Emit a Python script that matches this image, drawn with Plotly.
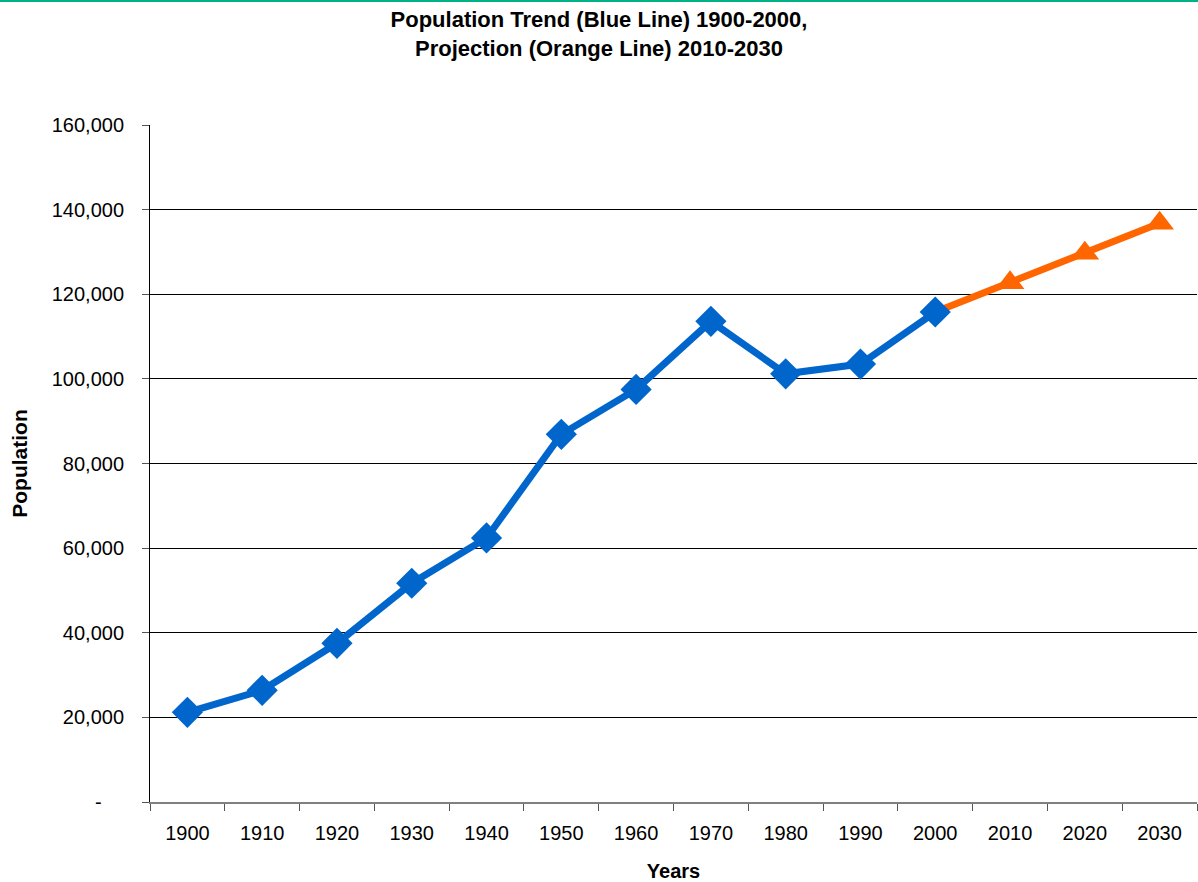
import plotly.graph_objects as go

years = ["1900", "1910", "1920", "1930", "1940", "1950", "1960", "1970",
         "1980", "1990", "2000", "2010", "2020", "2030"]
trend_years = years[:11]
trend_values = [21200, 26400, 37500, 51700, 62400, 86900, 97500, 113600,
                101200, 103500, 115800]
proj_years = years[10:]
proj_values = [115800, 122700, 129700, 136800]

y_ticks = [0, 20000, 40000, 60000, 80000, 100000, 120000, 140000, 160000]
y_tick_text = ["-" + "\u00a0" * 4, "20,000", "40,000", "60,000", "80,000",
               "100,000", "120,000", "140,000", "160,000"]

fig = go.Figure()
fig.add_trace(go.Scatter(
    x=proj_years, y=proj_values, mode="lines+markers",
    line=dict(color="#FF6600", width=7),
    marker=dict(symbol="triangle-up", size=[0, 25, 25, 25], color="#FF6600",
                opacity=1, line=dict(width=0, color="#FF6600")),
    showlegend=False, cliponaxis=False, hoverinfo="skip"))
fig.add_trace(go.Scatter(
    x=trend_years, y=trend_values, mode="lines+markers",
    line=dict(color="#0066CC", width=7),
    marker=dict(symbol="diamond", size=24, color="#0066CC",
                opacity=1, line=dict(width=0, color="#0066CC")),
    showlegend=False, cliponaxis=False, hoverinfo="skip"))

fig.update_layout(
    width=1198, height=882,
    margin=dict(l=150, r=1, t=125, b=80, autoexpand=False),
    paper_bgcolor="white", plot_bgcolor="white",
    font=dict(family="Liberation Sans, Arial, sans-serif", color="black", size=20),
    title=dict(
        text="<b>Population Trend (Blue Line) 1900-2000,<br>Projection (Orange Line) 2010-2030</b>",
        x=0.5, xref="container", xanchor="center",
        y=0.969, yref="container", yanchor="top",
        font=dict(size=22, color="black")),
    shapes=[dict(type="line", xref="paper", yref="paper", x0=-0.2, x1=1.01,
                 y0=1.183, y1=1.183, line=dict(color="#00B386", width=2))],
)
fig.update_xaxes(
    type="category", categoryorder="array", categoryarray=years,
    range=[-0.5, 13.5], tickson="boundaries",
    ticks="outside", ticklen=7, tickcolor="#555555",
    showline=True, linecolor="#808080", linewidth=2,
    showgrid=False, zeroline=False, automargin=False,
    ticklabelstandoff=12,
    title=dict(text="<b>Years</b>", font=dict(size=20), standoff=30),
    tickfont=dict(size=20))
fig.update_yaxes(
    range=[0, 160000], tickvals=y_ticks, ticktext=y_tick_text,
    ticks="outside", ticklen=7, tickcolor="#555555",
    showline=True, linecolor="black", linewidth=1,
    showgrid=True, gridcolor="black", gridwidth=1, zeroline=False,
    automargin=False, ticklabelstandoff=14,
    title=dict(text="<b>Population</b>", font=dict(size=21), standoff=18),
    tickfont=dict(size=20))

fig.write_html("out.html", config={"displayModeBar": False},
               post_script="document.body.style.margin='0';document.body.style.padding='0';")
